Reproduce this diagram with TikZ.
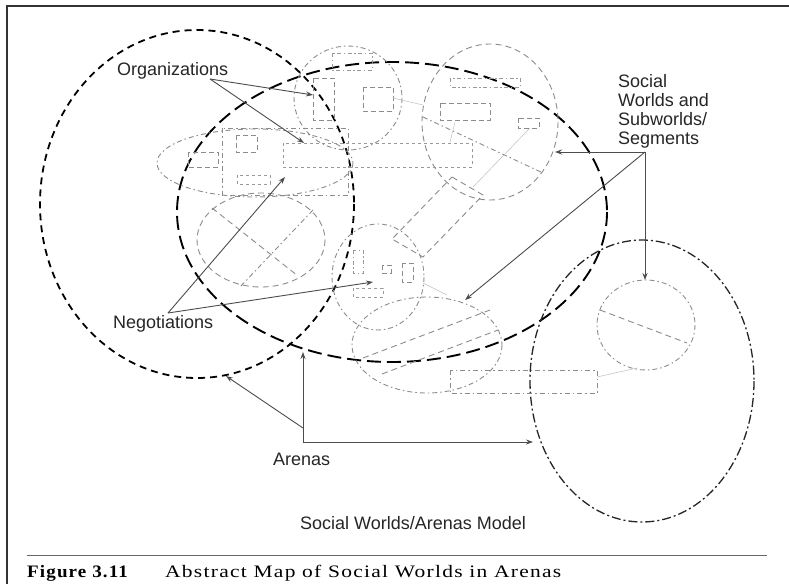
\documentclass[tikz,border=0pt]{standalone}
\usepackage{fontspec}
\usepackage{graphicx}
\setmainfont{Liberation Serif}
\setsansfont{Liberation Sans}
\usetikzlibrary{arrows.meta}
\tikzset{
  arenaA/.style={line width=1.8pt, black, dash pattern=on 7pt off 5pt},
  arenaB/.style={line width=1.9pt, black, dash pattern=on 14pt off 6pt},
  arenaC/.style={line width=1.3pt, black!85, dash pattern=on 9pt off 3pt on 2pt off 3pt},
  swdd/.style={line width=0.9pt, black!45, dash pattern=on 5pt off 3pt on 1.5pt off 3pt},
  swda/.style={line width=0.9pt, black!45, dash pattern=on 6pt off 4pt},
  orgbox/.style={line width=1pt, black!45, dash pattern=on 5pt off 3pt},
  orgdd/.style={line width=1pt, black!40, dash pattern=on 4pt off 2.5pt on 1.5pt off 2.5pt},
  orgdot/.style={line width=1pt, black!40, dash pattern=on 3pt off 3pt},
  thin/.style={line width=0.5pt, black!25},
  conn/.style={line width=0.9pt, black!70},
  arr/.style={conn, -{Stealth[length=7pt,width=5pt]}},
  lbl/.style={font=\sffamily\fontsize{18}{19}\selectfont, text=black!85, inner sep=0pt},
}
\begin{document}
\begin{tikzpicture}[x=1pt,y=-1pt]
\useasboundingbox (0,0) rectangle (789,584);
\fill[white] (0,0) rectangle (789,584);
% frame
\draw[line width=1.3pt, black!80] (7,584) -- (7,6) -- (789,6);

% ---- arenas ----
\draw[arenaA] (197,204) ellipse [x radius=157, y radius=174];
\draw[arenaB] (392,212) ellipse [x radius=215, y radius=150];
\draw[arenaC] (642,381) ellipse [x radius=112, y radius=141];

% ---- social worlds ----
% top circle with organizations
\draw[swdd] (348,98) ellipse [x radius=54, y radius=52];
\draw[orgbox] (313,78) rectangle (334,120);
\draw[orgbox] (363,87) rectangle (393,111);
\draw[orgdd] (332,53) rectangle (372,70);
% top right circle
\draw[swda] (490,122) ellipse [x radius=68, y radius=78];
\draw[orgdd] (450,78) rectangle (520,87);
\draw[orgbox] (440,103) rectangle (490,120);
\draw[orgbox] (518,118) rectangle (539,128);
\draw[swdd] (423,117) -- (543,173);
\draw[thin] (530,128) -- (473,187);
\draw[thin] (455,122) -- (450,142);
\draw[thin] (393,98) -- (423,105);
% left horizontal ellipse
\draw[swdd] (255,163) ellipse [x radius=98, y radius=34];
\draw[swdd] (222,128) rectangle (348,195);
\draw[orgbox] (236,135) rectangle (257,152);
\draw[orgdot] (237,175) rectangle (270,184);
\draw[orgbox] (188,152) rectangle (218,167);
% long dotted rectangle
\draw[orgdot] (283,143) rectangle (472,167);
% circle with cross
\draw[swda] (261,240) ellipse [x radius=64, y radius=47];
\draw[swda] (212,208) -- (298,276);
\draw[swdd] (313,210) -- (240,287);
% diagonal rectangle
\draw[swda] (452,177) -- (483,195) -- (423,257) -- (392,239) -- cycle;
% small circle center
\draw[swdd] (378,277) ellipse [x radius=46, y radius=53];
\draw[orgdd] (353,250) rectangle (363,273);
\draw[orgbox] (382,265) rectangle (391,273);
\draw[orgbox] (402,263) rectangle (413,282);
\draw[orgdot] (353,288) rectangle (383,297);
\draw[thin] (423,283) -- (447,295);
% lower middle ellipse
\draw[swdd] (427,345) ellipse [x radius=75, y radius=48];
\draw[swda] (363,358) -- (490,310);
\draw[swda] (382,374) -- (498,330);
% dash-dot rectangle
\draw[swdd] (450,370) rectangle (597,393);
\draw[thin] (597,377) -- (637,368);
% right circle
\draw[swdd] (646,325) ellipse [x radius=49, y radius=45];
\draw[swda] (600,310) -- (687,343);

% ---- labels ----
\node[lbl, anchor=west] (org) at (117,71) {Organizations};
\node[lbl, anchor=west] (neg) at (113,324) {Negotiations};
\node[lbl, anchor=west] (are) at (273,459) {Arenas};
\node[lbl, anchor=north west, align=left] (sws) at (618,74) {Social\\Worlds and\\Subworlds/\\Segments};
\node[lbl, anchor=west] (mdl) at (300,523) {Social Worlds/Arenas Model};

% ---- connectors ----
\coordinate (oj) at (210,79);
\coordinate (o1) at (313,95);
\coordinate (o2) at (304,143);
\draw[arr] (oj) -- (o1);
\draw[arr] (oj) -- (o2);

\coordinate (nj) at (168,313);
\coordinate (n1) at (285,177);
\coordinate (n2) at (373,282);
\draw[arr] (nj) -- (n1);
\draw[arr] (nj) -- (n2);

\coordinate (aj) at (303,442);
\coordinate (ak) at (303,428);
\coordinate (a1) at (303,352);
\coordinate (a2) at (226,376);
\coordinate (a3) at (533,442);
\draw[arr] (aj) -- (a1);
\draw[arr] (ak) -- (a2);
\draw[arr] (aj) -- (a3);

\coordinate (sj) at (645,152);
\coordinate (s1) at (555,152);
\coordinate (s2) at (645,280);
\coordinate (s3) at (465,300);
\draw[arr] (sj) -- (s1);
\draw[arr] (sj) -- (s2);
\draw[arr] (sj) -- (s3);

% ---- caption ----
\draw[line width=1pt, black!60] (27,555) -- (767,555);
\node[anchor=west, inner sep=0pt, font=\fontsize{17.5}{19}\selectfont\bfseries\addfontfeature{LetterSpace=6}] (fig) at (27,573) {\scalebox{1.086}[1]{Figure 3.11}};
\node[anchor=west, inner sep=0pt, font=\fontsize{17.5}{19}\selectfont\addfontfeature{LetterSpace=6}] (cap) at (165,573) {\scalebox{1.227}[1]{Abstract Map of Social Worlds in Arenas}};
\end{tikzpicture}
\end{document}
